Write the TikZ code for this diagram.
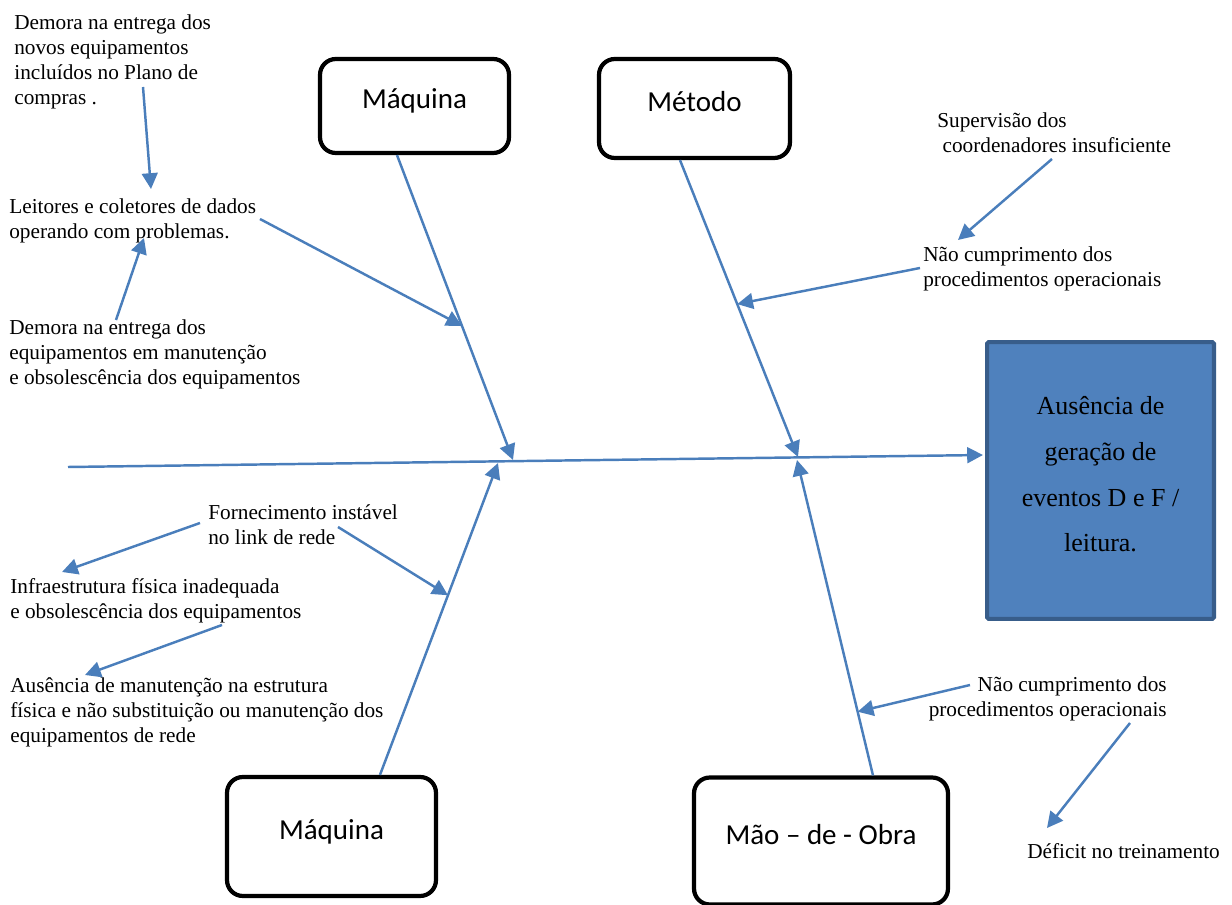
\documentclass[tikz,border=0pt]{standalone}
\usepackage{fontspec}
\setmainfont{Liberation Serif}
\newfontfamily\boxfont{Carlito}
\usetikzlibrary{arrows.meta,positioning}
\definecolor{bone}{HTML}{4A7EBB}
\definecolor{effectfill}{HTML}{4F81BD}
\definecolor{effectdraw}{HTML}{385D8A}
\begin{document}
\begin{tikzpicture}[x=0.02cm,y=-0.02cm]
\tikzstyle{cause}=[draw=black,line width=2.4pt,rounded corners=9pt,fill=white,text depth=8pt,font=\boxfont\fontsize{16.5}{20}\selectfont]
\tikzstyle{note}=[anchor=north west,inner sep=0pt,align=left,font=\fontsize{12.1}{14.4}\selectfont]
\tikzstyle{arrow}=[draw=bone,line width=1.4pt,-{Triangle[length=9pt,width=9pt]}]
\useasboundingbox (0,0) rectangle (1232,905);
\node [cause,minimum width=3.78cm,minimum height=1.88cm] (maq1) at (414.5,106) {Máquina};
\node [cause,minimum width=3.82cm,minimum height=1.98cm] (met) at (694.5,108.5) {Método};
\node [cause,minimum width=4.18cm,minimum height=2.38cm] (maq2) at (331.5,836.5) {Máquina};
\node [cause,minimum width=5.08cm,minimum height=2.54cm] (mao) at (821,841) {Mão – de - Obra};
\node [draw=effectdraw,fill=effectfill,line width=2.3pt,rounded corners=1pt,minimum width=4.54cm,minimum height=5.54cm,align=center,text depth=7pt,font=\fontsize{14.8}{26}\selectfont] (effect) at (1100.5,480.5) {Ausência de\\geração de\\eventos D e F /\\leitura.};
\node [note] (t1) at (14,14) {Demora na entrega dos\\novos equipamentos\\incluídos no Plano de\\compras .};
\node [note] (t2) at (9,198) {Leitores e coletores de dados\\operando com problemas.};
\node [note] (t3) at (9,319) {Demora na entrega dos\\equipamentos em manutenção\\e obsolescência dos equipamentos};
\node [note] (t4) at (937,112) {Supervisão dos\\\hspace*{3pt}coordenadores insuficiente};
\node [note] (t5) at (923,246) {Não cumprimento dos\\procedimentos operacionais};
\node [note] (t6) at (208,504) {Fornecimento instável\\no link de rede};
\node [note] (t7) at (10,578) {Infraestrutura física inadequada\\e obsolescência dos equipamentos};
\node [note] (t8) at (10,677) {Ausência de manutenção na estrutura\\física e não substituição ou manutenção dos\\equipamentos de rede};
\node [note,anchor=north east,align=right] (t9) at (1167,676) {Não cumprimento dos\\procedimentos operacionais};
\node [note] (t10) at (1027,843) {Déficit no treinamento};
\coordinate (tail) at (68,467);
\coordinate (head) at (983,455);
\coordinate (j1) at (513,460);
\coordinate (j2) at (498,463);
\coordinate (j3) at (798,457);
\coordinate (j4) at (797,460);
\draw [arrow] (tail) -- (head);
\draw [arrow] ([xshift=-0.35cm]maq1.south) -- coordinate[pos=0.56] (k1) (j1);
\draw [arrow] ([xshift=-0.29cm]met.south) -- coordinate[pos=0.485] (k2) (j3);
\draw [arrow] ([xshift=0.97cm]maq2.north) -- coordinate[pos=0.576] (k3) (j2);
\draw [arrow] ([xshift=1.04cm]mao.north) -- coordinate[pos=0.202] (k4) (j4);
\coordinate (a1) at (143,87);
\coordinate (b1) at (151,189);
\coordinate (a2) at (116,320);
\coordinate (b2) at (144,238);
\coordinate (a3) at (260,219);
\coordinate (a4) at (1052,159);
\coordinate (b4) at (958,240);
\coordinate (a5) at (920,268);
\coordinate (a6) at (200,523);
\coordinate (b6) at (62,572);
\coordinate (a7) at (338,527);
\coordinate (a8) at (222,625);
\coordinate (b8) at (85,675);
\coordinate (a9) at (970,685);
\coordinate (a10) at (1130,723);
\coordinate (b10) at (1047,828);
\draw [arrow] (a1) -- (b1);
\draw [arrow] (a2) -- (b2);
\draw [arrow] (a3) -- (k1);
\draw [arrow] (a4) -- (b4);
\draw [arrow] (a5) -- (k2);
\draw [arrow] (a6) -- (b6);
\draw [arrow] (a7) -- (k3);
\draw [arrow] (a8) -- (b8);
\draw [arrow] (a9) -- (k4);
\draw [arrow] (a10) -- (b10);
\end{tikzpicture}
\end{document}
